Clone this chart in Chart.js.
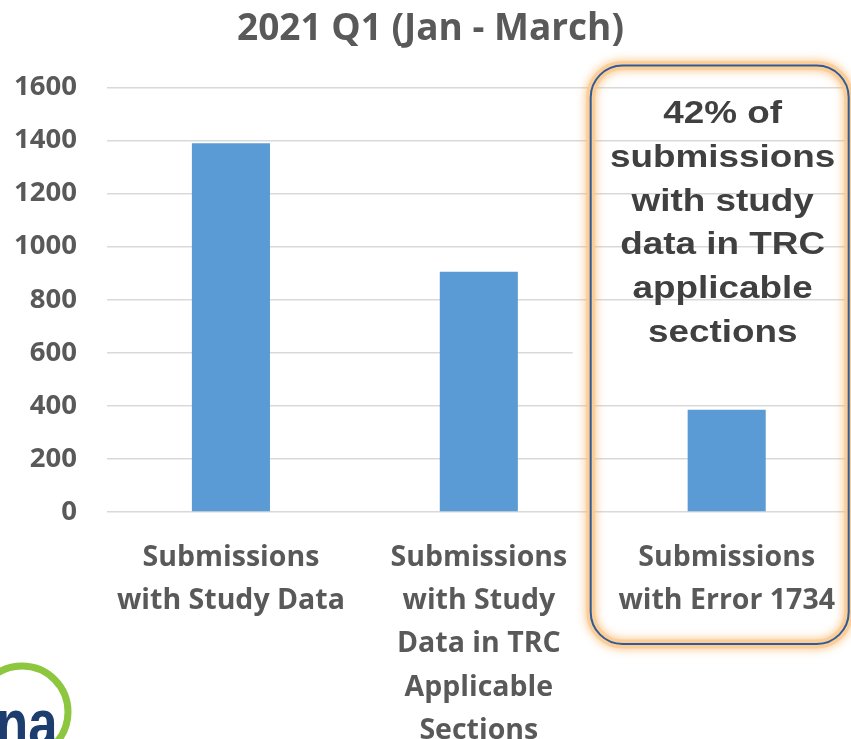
<!DOCTYPE html>
<html>
<head>
<meta charset="utf-8">
<script src="https://cdn.jsdelivr.net/npm/chart.js@4.4.1/dist/chart.umd.min.js"></script>
<style>
  html, body { margin: 0; padding: 0; background: #ffffff; }
  #wrap { width: 851px; height: 739px; position: relative; }
</style>
</head>
<body>
<div id="wrap"><canvas id="grafico"></canvas></div>
<script>
// Dados do gráfico
const categorias = [
    ['Submissions', 'with Study Data'],
    ['Submissions', 'with Study', 'Data in TRC', 'Applicable', 'Sections'],
    ['Submissions', 'with Error 1734']
];
const valores = [1390, 905, 385];
const yMin = 0;
const yMax = 1600;
const yPasso = 200;
const titulo = '2021 Q1 (Jan - March)';
const notaLinhas = ['42% of', 'submissions', 'with study', 'data in TRC', 'applicable', 'sections'];
const logoTexto = 'na';

const corTexto = '#595959';
const fonte = "'Open Sans', 'DejaVu Sans', sans-serif";

// Caixa de destaque em volta da terceira barra + texto
const destaquePlugin = {
    id: 'destaque',
    beforeDatasetsDraw(chart) {
        // a linha de 600 some atrás da caixa no original
        const ctx = chart.ctx;
        const x = chart.scales.x;
        const y = chart.scales.y;
        const cx = x.getPixelForValue(2);
        const yy = y.getPixelForValue(600);
        ctx.save();
        ctx.strokeStyle = '#ffffff';
        ctx.lineWidth = 4;
        ctx.beginPath();
        ctx.moveTo(cx - 154, yy);
        ctx.lineTo(chart.width, yy);
        ctx.stroke();
        ctx.restore();
    },
    afterDraw(chart) {
        const ctx = chart.ctx;
        const cx = chart.scales.x.getPixelForValue(2);
        const esq = cx - 136, dir = cx + 122, topo = 65.5, baixo = 644, raio = 32;

        ctx.save();
        // brilho laranja
        ctx.shadowColor = 'rgba(247, 170, 80, 0.9)';
        ctx.shadowBlur = 10;
        ctx.strokeStyle = 'rgba(250, 205, 150, 0.85)';
        ctx.lineWidth = 9;
        ctx.beginPath();
        ctx.roundRect(esq, topo, dir - esq, baixo - topo, raio);
        ctx.stroke();
        ctx.restore();

        ctx.save();
        ctx.strokeStyle = '#2F5C99';
        ctx.lineWidth = 2;
        ctx.beginPath();
        ctx.roundRect(esq, topo, dir - esq, baixo - topo, raio);
        ctx.stroke();
        ctx.restore();

        // texto da nota (esticado na horizontal como no slide)
        ctx.save();
        ctx.fillStyle = '#404040';
        ctx.font = "bold 31.5px 'Liberation Sans', Arial, sans-serif";
        ctx.textAlign = 'center';
        ctx.textBaseline = 'alphabetic';
        const tx = cx - 4;
        notaLinhas.forEach((linha, i) => {
            ctx.save();
            ctx.translate(tx, 123 + i * 43.8);
            ctx.scale(1.17, 1);
            ctx.fillText(linha, 0, 0);
            ctx.restore();
        });
        ctx.restore();

        // pedaço do logo no canto inferior esquerdo
        ctx.save();
        ctx.strokeStyle = '#8DC63F';
        ctx.lineWidth = 7;
        ctx.beginPath();
        ctx.arc(22, 712, 46, 0, Math.PI * 2);
        ctx.stroke();
        ctx.fillStyle = '#1C3D6E';
        ctx.font = "bold 66px 'Liberation Sans', Arial, sans-serif";
        ctx.textAlign = 'left';
        ctx.textBaseline = 'alphabetic';
        ctx.translate(-4, 746);
        ctx.scale(0.8, 1);
        ctx.fillText(logoTexto, 0, 0);
        ctx.restore();
    }
};

const ctx = document.getElementById('grafico').getContext('2d');
const chart = new Chart(ctx, {
    type: 'bar',
    data: {
        labels: categorias,
        datasets: [{
            data: valores,
            backgroundColor: '#5B9BD5',
            categoryPercentage: 1,
            barPercentage: 0.315
        }]
    },
    options: {
        responsive: true,
        maintainAspectRatio: false,
        animation: false,
        devicePixelRatio: 1,
        layout: { padding: { left: 10, right: 0, top: 0, bottom: 0 } },
        plugins: {
            legend: { display: false },
            tooltip: { enabled: false },
            title: {
                display: true,
                text: titulo,
                color: corTexto,
                font: { family: fonte, size: 37, weight: 'bold', lineHeight: 1.2 },
                padding: { top: 7, bottom: 36 }
            }
        },
        scales: {
            x: {
                grid: { display: false },
                border: { display: false },
                ticks: {
                    color: corTexto,
                    font: { family: fonte, size: 28.5, weight: 'bold', lineHeight: 1.52 },
                    maxRotation: 0,
                    autoSkip: false,
                    padding: 16
                },
                afterFit(escala) { escala.height = 227; }
            },
            y: {
                min: yMin,
                max: yMax,
                ticks: {
                    stepSize: yPasso,
                    color: corTexto,
                    font: { family: fonte, size: 27.5, weight: 'bold' },
                    padding: 30,
                    callback: (v) => String(v)
                },
                grid: { color: '#D9D9D9', lineWidth: 1.5, drawTicks: false },
                border: { display: false },
                afterFit(escala) { escala.width = 97; }
            }
        }
    },
    plugins: [destaquePlugin]
});
</script>
</body>
</html>
